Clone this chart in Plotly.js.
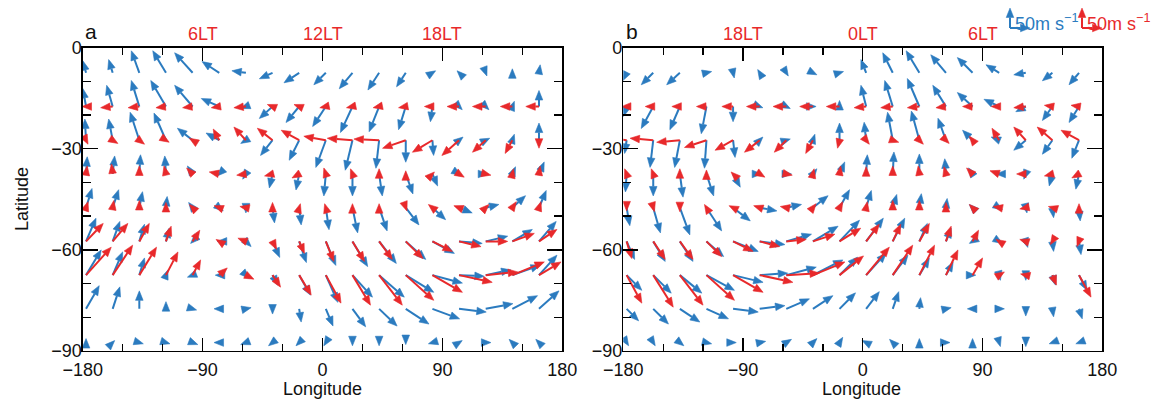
<!DOCTYPE html>
<html><head><meta charset="utf-8">
<script src="https://cdn.plot.ly/plotly-3.0.1.min.js"></script>
<style>body{margin:0;background:#fff}#chart{width:1163px;height:408px}</style>
</head><body><div id="chart"></div>
<script>
// grid
const lonGrid = [-177.5,-157.5,-137.5,-117.5,-97.5,-77.5,-57.5,-37.5,-17.5,2.5,22.5,42.5,62.5,82.5,102.5,122.5,142.5,162.5];
const blueLats = [-7.5,-17.5,-27.5,-37.5,-47.5,-57.5,-67.5,-77.5,-87.5];
const redLats = [-17.5,-27.5,-37.5,-47.5,-57.5,-67.5];
const xTickVals = [-180,-90,0,90,180];
const xTickText = ['\u2212180','\u221290','0','90','180'];
const yTickVals = [0,-30,-60,-90];
const yTickText = ['0','\u221230','\u221260','\u221290'];
const ltLabelsA = ['6LT','12LT','18LT'];
const ltLabelsB = ['18LT','0LT','6LT'];
const ltLons = [-90,0,90];
const refSpeed = 50; // m/s

// Panel a, blue (m/s), rows = blueLats, cols = lonGrid
const aBlueU = [
 [-8,-10,-20,-33,-45,-43,-35,-33,-38,-30,-33,-28,-23,8,-5,3,0,3],
 [-8,-15,-20,-38,-45,-45,-13,-33,-33,-33,-30,-25,-18,-5,8,8,5,0],
 [-3,-10,-23,-30,-38,-33,-13,-30,-25,-25,-18,-8,0,3,10,10,5,0],
 [3,5,3,-3,-13,-5,-8,-8,-8,-5,0,8,18,13,5,5,8,13],
 [15,15,8,3,-10,10,0,5,5,8,13,20,33,33,33,33,33,18],
 [25,18,13,8,-5,-5,13,18,18,25,38,43,50,55,58,55,50,43],
 [38,25,13,5,-13,-10,8,13,28,30,50,63,70,75,63,63,70,45],
 [33,18,0,0,10,-13,13,0,5,18,33,45,58,68,68,68,63,50],
 [0,5,10,10,13,-13,-13,-10,-8,-5,0,0,0,-10,8,13,-8,-8]
];
const aBlueV = [
 [30,33,55,55,50,28,5,-15,-25,-30,-40,-43,-35,5,5,-8,10,20],
 [45,53,65,65,53,20,-5,-30,-40,-50,-65,-63,-58,-38,-8,-8,13,40],
 [53,53,70,68,30,18,-8,-38,-50,-68,-75,-70,-55,-38,8,5,15,43],
 [43,45,48,45,20,-5,-13,-35,-40,-55,-55,-55,-50,-30,-3,0,18,30],
 [48,45,40,28,13,-8,-13,-38,-43,-55,-63,-58,-43,-30,-13,8,30,43],
 [58,50,43,33,-5,0,-13,-40,-53,-60,-63,-55,-45,-30,-5,13,30,50],
 [63,58,43,13,-5,0,-8,-25,-50,-68,-55,-55,-43,-20,-3,13,25,50],
 [58,55,45,18,-3,0,3,-13,-33,-43,-45,-43,-38,-25,-8,13,33,45],
 [10,5,-3,-3,-5,0,-5,-8,-8,-8,-8,-8,-5,-3,5,0,8,8]
];
// Panel a, red (m/s), rows = redLats
const aRedU = [
 [-10,-30,-28,-25,-25,-20,-30,-13,-13,-15,-15,-15,-18,-20,-30,-33,-30,-33],
 [5,13,13,8,-8,-15,-30,-38,-45,-55,-63,-63,-58,-50,-43,-33,-18,0],
 [3,-3,0,-5,-15,-25,-23,-20,-18,-5,-5,0,0,5,13,13,3,3],
 [5,3,0,0,-8,-13,-15,0,3,-3,0,0,3,-10,-13,8,10,5],
 [43,38,25,13,18,-8,-20,10,13,20,30,33,43,50,55,55,55,45],
 [63,50,43,30,20,20,20,20,30,38,45,58,70,75,83,80,80,55]
];
const aRedV = [
 [0,-3,-3,-3,-3,-3,-3,5,5,-3,-3,-3,-3,0,0,0,0,0],
 [-10,-8,-10,-5,5,28,33,30,25,10,5,3,-20,-30,-38,-30,-33,-20],
 [20,25,20,20,15,5,-3,-5,-10,15,13,13,8,5,-8,-3,13,20],
 [15,18,18,13,8,5,3,13,10,10,10,10,-8,8,5,8,15,15],
 [45,45,45,38,28,5,8,-20,-30,-50,-50,-45,-43,-25,-13,0,20,30],
 [70,75,70,58,38,18,-10,-30,-50,-70,-75,-75,-63,-43,-18,8,33,33]
];
// Panel b, blue
const bBlueU = [
 [-10,-30,-33,13,3,-5,5,10,10,-13,-25,-33,-38,-38,-33,-30,-25,-25],
 [-8,-30,-25,-13,0,8,10,8,0,-13,-20,-30,-33,-38,-38,-25,-25,-25],
 [-5,-8,-13,-5,5,8,10,5,0,-5,-13,-20,-20,-25,-20,-30,-25,-18],
 [-3,0,8,18,18,5,13,10,13,3,3,0,-3,-10,-8,-5,-8,-8],
 [8,18,25,38,43,43,38,38,25,13,10,5,3,-8,8,3,3,3],
 [20,30,33,43,63,63,63,63,50,43,30,20,13,-8,8,5,3,5],
 [38,45,55,70,75,70,75,75,45,50,38,25,18,8,3,0,8,20],
 [30,38,50,55,63,63,58,50,40,33,15,3,13,-13,13,0,3,8],
 [5,5,10,13,8,15,13,10,8,-10,-8,0,10,0,3,0,-8,-8]
];
const bBlueV = [
 [-20,-30,-30,3,-13,8,-8,-5,3,33,50,55,45,38,20,-5,-20,-30],
 [-25,-55,-58,-68,-38,-3,-5,0,15,53,65,70,53,35,18,-13,-35,-40],
 [-33,-68,-68,-70,-43,8,3,15,43,45,70,73,55,25,8,-25,-35,-45],
 [-45,-55,-58,-55,-33,0,0,13,30,48,55,50,38,15,0,-13,-30,-38],
 [-45,-63,-68,-58,-33,-8,8,30,45,43,33,35,23,8,-5,-13,-25,-33],
 [-45,-50,-50,-38,-25,-8,18,38,53,58,58,45,33,-5,-5,-15,-25,-33],
 [-38,-45,-45,-38,-18,5,20,38,45,55,50,43,33,0,-13,-13,-25,-38],
 [-30,-38,-33,-25,-8,8,25,33,40,43,43,28,3,0,0,-18,-20,-25],
 [-8,-8,-8,-3,0,3,8,10,13,5,8,10,0,10,-10,-10,-3,-3]
];
// Panel b, red
const bRedU = [
 [-13,-20,-20,-25,-28,-33,-33,-33,-33,-30,-30,-30,-25,-25,-20,-30,-20,-20],
 [-50,-58,-58,-55,-45,-38,-30,-18,-5,8,15,10,8,-8,-18,-30,-38,-45],
 [-5,-5,0,0,-5,13,15,3,3,0,0,-3,-5,-15,-23,-23,-20,-18],
 [0,3,0,-5,-10,-15,-15,8,8,3,0,0,0,-8,-15,-15,-10,0],
 [13,30,33,38,50,50,50,55,53,33,20,25,13,15,-8,-15,-5,-5],
 [38,50,58,70,75,83,83,80,60,58,50,38,30,25,13,-13,10,30]
];
const bRedV = [
 [0,0,0,0,0,0,0,0,0,-3,-3,-3,-3,0,0,-3,3,3],
 [8,5,-5,-18,-25,-30,-30,-33,-20,-10,-5,-10,-8,10,30,33,33,25],
 [13,13,13,10,5,-8,-3,13,20,18,20,20,18,15,8,0,-5,-10],
 [-8,-10,-10,8,5,5,3,10,15,15,18,18,13,8,3,-3,3,10],
 [-43,-45,-45,-38,-25,-13,5,18,33,43,43,45,38,28,5,5,-8,-13],
 [-70,-80,-75,-63,-43,-18,5,33,48,70,75,75,63,43,8,3,-25,-55]
];

const W = 1163, H = 408;
const BLUE = '#2b7bbf', RED = '#e8292b';
const aDom = [82.7/W, 562.3/W], bDom = [623.3/W, 1102.3/W];
const yDom = [(H-351)/H, (H-47.5)/H];
const pxPerMs = 20/refSpeed;
const HL = 9.5, HW = 3.8;

function arrows(U, V, lats, dom, xa, ya, color) {
  const pxX = (dom[1]-dom[0])*W/360, pxY = (yDom[1]-yDom[0])*H/90;
  const lx=[], ly=[], hx=[], hy=[];
  for (let j=0;j<lats.length;j++) for (let k=0;k<lonGrid.length;k++) {
    const x0 = lonGrid[k], y0 = lats[j];
    const dx = U[j][k]*pxPerMs, dy = V[j][k]*pxPerMs;
    const m = Math.hypot(dx,dy);
    let ux = 1, uy = 0; if (m>0.01) {ux = dx/m; uy = dy/m;}
    const bx = dx-HL*ux, by = dy-HL*uy;
    if (m > HL) { lx.push(x0, x0+bx/pxX, null); ly.push(y0, y0+by/pxY, null); }
    const pts = [[dx,dy],[bx-HW*uy, by+HW*ux],[bx+HW*uy, by-HW*ux],[dx,dy]];
    pts.forEach(p=>{hx.push(x0+p[0]/pxX); hy.push(y0+p[1]/pxY);});
    hx.push(null); hy.push(null);
  }
  return [
    {type:'scatter', mode:'lines', x:lx, y:ly, xaxis:xa, yaxis:ya, line:{color, width:2}, hoverinfo:'skip', showlegend:false},
    {type:'scatter', mode:'lines', x:hx, y:hy, xaxis:xa, yaxis:ya, fill:'toself', fillcolor:color, line:{color, width:0.6}, hoverinfo:'skip', showlegend:false}
  ];
}

const traces = [].concat(
  arrows(aBlueU, aBlueV, blueLats, aDom, 'x', 'y', BLUE),
  arrows(aRedU, aRedV, redLats, aDom, 'x', 'y', RED),
  arrows(bBlueU, bBlueV, blueLats, bDom, 'x2', 'y2', BLUE),
  arrows(bRedU, bRedV, redLats, bDom, 'x2', 'y2', RED)
);

const FONT = 'Liberation Sans, Arial, sans-serif';
const FS = 18;
function xAxis(dom, anchor) {
  return {domain:dom, anchor, range:[-180,180], tickmode:'array', tickvals:xTickVals, ticktext:xTickText,
    ticks:'inside', ticklen:13, tickwidth:1.4, tickcolor:'#000', showline:true, linecolor:'#000', linewidth:1.4,
    mirror:'ticks', showgrid:false, zeroline:false, ticklabelstandoff:2,
    tickfont:{family:FONT, size:FS, color:'#111'},
    minor:{dtick:30, tick0:0, ticks:'inside', ticklen:7, tickwidth:1.4, tickcolor:'#000', showgrid:false}};
}
function yAxis(anchor) {
  return {domain:yDom, anchor, range:[-90,0], tickmode:'array', tickvals:yTickVals, ticktext:yTickText,
    ticks:'inside', ticklen:15, tickwidth:1.4, tickcolor:'#000', showline:true, linecolor:'#000', linewidth:1.4,
    mirror:'ticks', showgrid:false, zeroline:false, ticklabelstandoff:-4,
    tickfont:{family:FONT, size:FS, color:'#111'},
    minor:{dtick:10, tick0:0, ticks:'inside', ticklen:8, tickwidth:1.4, tickcolor:'#000', showgrid:false}};
}

const ann = [];
function paperX(px){return px/W;} function paperY(py){return 1-py/H;}
function txt(xref, x, y, text, size, color, extra) {
  return Object.assign({xref, yref:'paper', x, y:paperY(y), text, showarrow:false, xanchor:'center', yanchor:'middle',
    font:{family:FONT, size, color}}, extra||{});
}
ltLons.forEach((lon,i)=>{
  ann.push(txt('x', lon, 34, ltLabelsA[i], FS, RED));
  ann.push(txt('x2', lon, 34, ltLabelsB[i], FS, RED));
});
ann.push(txt('paper', paperX(91), 32, 'a', 21, '#111'));
ann.push(txt('paper', paperX(632), 32, 'b', 21, '#111'));
ann.push(txt('paper', paperX(322), 389, 'Longitude', FS, '#111'));
ann.push(txt('paper', paperX(862), 389, 'Longitude', FS, '#111'));
ann.push(txt('paper', paperX(22), 199, 'Latitude', FS, '#111', {textangle:-90}));
// scale legend text
ann.push(txt('paper', paperX(1013), 22, '50m s<sup>\u22121</sup>', FS, BLUE, {xanchor:'left'}));
ann.push(txt('paper', paperX(1085), 22, '50m s<sup>\u22121</sup>', FS, RED, {xanchor:'left'}));

// scale legend arrows as shapes (pixel-based, 50 m/s = 20 px)
const shapes = [];
function legendArrow(x0, y0, color) {
  const L = refSpeed*pxPerMs;
  shapes.push({type:'line', xref:'paper', yref:'paper', x0:paperX(x0), y0:paperY(y0), x1:paperX(x0), y1:paperY(y0-L+HL), line:{color, width:2}});
  shapes.push({type:'line', xref:'paper', yref:'paper', x0:paperX(x0), y0:paperY(y0), x1:paperX(x0+L-HL), y1:paperY(y0), line:{color, width:2}});
  const up = `M ${paperX(x0)} ${paperY(y0-L)} L ${paperX(x0-HW)} ${paperY(y0-L+HL)} L ${paperX(x0+HW)} ${paperY(y0-L+HL)} Z`;
  const rt = `M ${paperX(x0+L)} ${paperY(y0)} L ${paperX(x0+L-HL)} ${paperY(y0-HW)} L ${paperX(x0+L-HL)} ${paperY(y0+HW)} Z`;
  shapes.push({type:'path', xref:'paper', yref:'paper', path:up, fillcolor:color, line:{color, width:0.5}});
  shapes.push({type:'path', xref:'paper', yref:'paper', path:rt, fillcolor:color, line:{color, width:0.5}});
}
legendArrow(1010, 28, BLUE);
legendArrow(1082, 28, RED);

const layout = {
  width:W, height:H, margin:{l:0,r:0,t:0,b:0,pad:0},
  paper_bgcolor:'#fff', plot_bgcolor:'#fff', showlegend:false,
  xaxis: xAxis(aDom, 'y'), yaxis: yAxis('x'),
  xaxis2: xAxis(bDom, 'y2'), yaxis2: yAxis('x2'),
  annotations: ann, shapes
};
Plotly.newPlot('chart', traces, layout, {displayModeBar:false, staticPlot:true});
</script></body></html>
